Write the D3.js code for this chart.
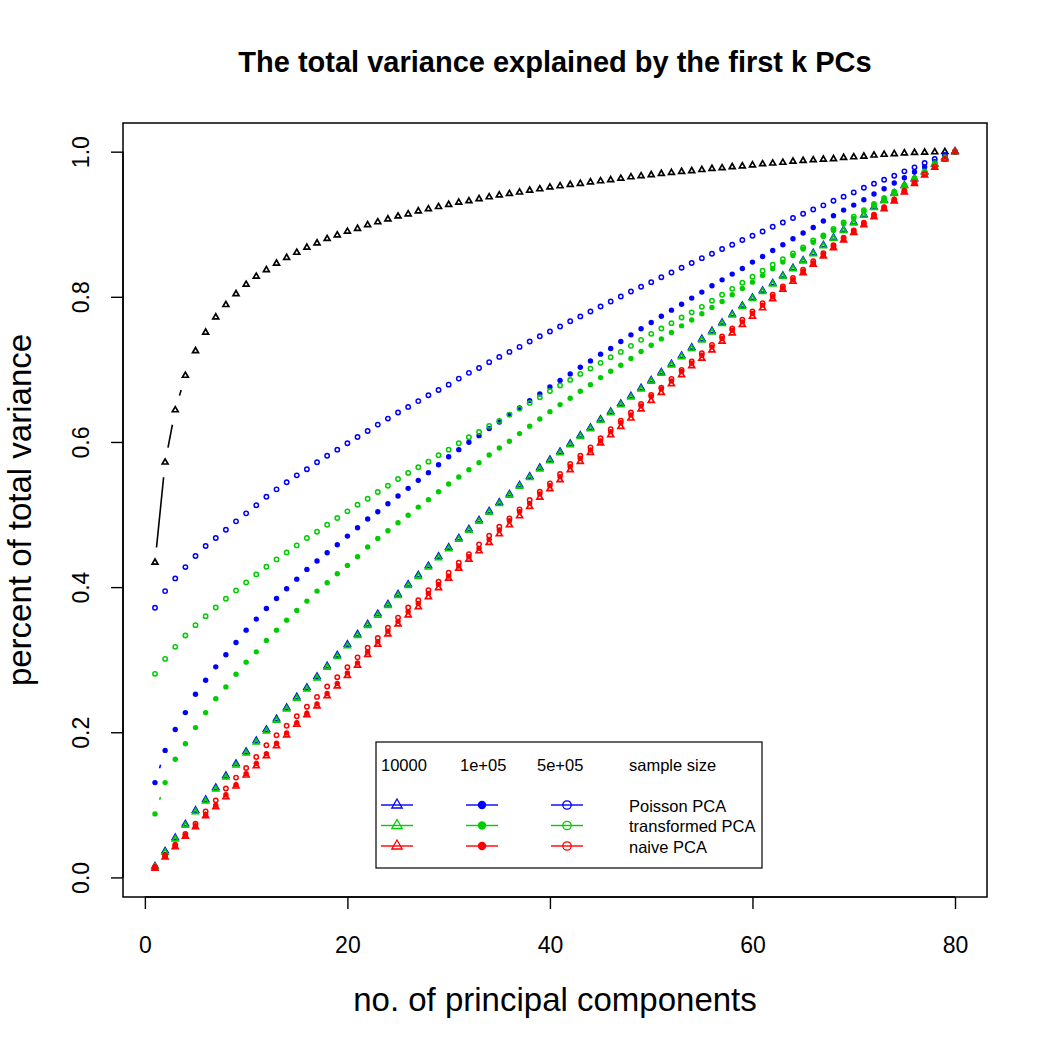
<!DOCTYPE html>
<html>
<head>
<meta charset="utf-8">
<script src="https://cdn.jsdelivr.net/npm/d3@7/dist/d3.min.js"></script>
<style>
  body { margin: 0; background: #fff; }
  text { font-family: "Liberation Sans", Arial, Helvetica, sans-serif; }
</style>
</head>
<body>
<script>
// number of principal components on the x axis
var pcs = d3.range(1, 81);

// black reference curve (triangles)
var reference = [0.434,0.572,0.644,0.6915,0.7255,0.751,0.772,0.789,0.804,0.817,
  0.828,0.837,0.846,0.854,0.861,0.868,0.874,0.880,0.885,0.890,
  0.894,0.899,0.903,0.907,0.911,0.914,0.918,0.921,0.924,0.927,
  0.930,0.932,0.935,0.9375,0.940,0.942,0.944,0.9466,0.9485,0.951,
  0.9526,0.9545,0.956,0.958,0.9595,0.961,0.963,0.965,0.9665,0.968,
  0.9697,0.971,0.9724,0.9735,0.975,0.9766,0.9775,0.979,0.980,0.9815,
  0.983,0.984,0.985,0.9866,0.9876,0.9885,0.9894,0.990,0.9917,0.9926,
  0.9935,0.995,0.996,0.997,0.998,0.9986,0.999,0.9995,0.9998,1.0];

// sample size 10000 (triangles)
var poisson10k = [0.0156,0.0363,0.0547,0.0735,0.0924,0.1071,0.1237,0.1403,0.1568,0.1734,
  0.1885,0.2037,0.2184,0.234,0.2487,0.2616,0.2768,0.2915,0.3062,0.321,
  0.3352,0.349,0.3632,0.3766,0.3903,0.4039,0.4166,0.4294,0.4423,0.4548,
  0.4676,0.48,0.4924,0.5048,0.5168,0.5283,0.5407,0.5526,0.5646,0.5756,
  0.5866,0.5977,0.6092,0.6198,0.6313,0.6418,0.6529,0.6634,0.6745,0.6851,
  0.6961,0.7076,0.719,0.7303,0.742,0.7531,0.7646,0.7761,0.788,0.799,
  0.8087,0.8189,0.8294,0.8398,0.8503,0.8605,0.8713,0.8816,0.8924,0.9027,
  0.9131,0.9239,0.9331,0.943,0.9535,0.9626,0.9724,0.983,0.992,1.0];
var transformed10k = [0.0145,0.0345,0.0528,0.0715,0.0902,0.1050,0.1215,0.1380,0.1545,0.1712,
  0.1862,0.2015,0.2162,0.2318,0.2465,0.2595,0.2745,0.2893,0.3040,0.3188,
  0.3330,0.3468,0.3610,0.3745,0.3882,0.4018,0.4145,0.4273,0.4402,0.4527,
  0.4655,0.4780,0.4904,0.5028,0.5148,0.5263,0.5387,0.5506,0.5626,0.5737,
  0.5847,0.5958,0.6073,0.6180,0.6295,0.6400,0.6511,0.6616,0.6727,0.6834,
  0.6944,0.7059,0.7173,0.7286,0.7403,0.7514,0.7629,0.7745,0.7864,0.7975,
  0.8072,0.8174,0.8280,0.8384,0.8490,0.8592,0.8700,0.8804,0.8912,0.9016,
  0.9120,0.9228,0.9321,0.9421,0.9527,0.9618,0.9717,0.9824,0.9915,1.0];
var naive10k = [0.0125,0.0280,0.0420,0.0565,0.0695,0.0846,0.0970,0.1108,0.1255,0.1407,
  0.1536,0.1674,0.1811,0.1959,0.2106,0.2239,0.2360,0.2500,0.2635,0.2780,
  0.2920,0.3068,0.3210,0.3352,0.3488,0.3614,0.3728,0.3866,0.3990,0.4120,
  0.4258,0.4382,0.4497,0.4611,0.4731,0.4855,0.4979,0.5108,0.5237,0.5352,
  0.5476,0.5614,0.5729,0.5853,0.5982,0.6097,0.6211,0.6326,0.6451,0.6570,
  0.6680,0.6800,0.6924,0.7048,0.7150,0.7265,0.7385,0.7500,0.7615,0.7730,
  0.7845,0.7970,0.8100,0.8210,0.8330,0.8445,0.8560,0.8675,0.8780,0.8885,
  0.8990,0.9100,0.9210,0.9318,0.9443,0.9560,0.9676,0.9784,0.9895,1.0];

// sample size 1e+05 (filled dots)
var poisson100k = [0.1306,0.175,0.2037,0.2271,0.2524,0.2717,0.2901,0.3067,0.3237,0.3407,
  0.3559,0.3706,0.3844,0.3977,0.411,0.4244,0.4359,0.4474,0.4584,0.4703,
  0.4818,0.4938,0.5039,0.5149,0.5255,0.5361,0.5471,0.5577,0.5687,0.5797,
  0.5894,0.5995,0.6087,0.6184,0.6276,0.6377,0.6469,0.657,0.6662,0.6759,
  0.6846,0.6938,0.703,0.7117,0.721,0.7287,0.7384,0.7476,0.7559,0.7646,
  0.7733,0.7816,0.7897,0.7982,0.8065,0.8152,0.8234,0.8313,0.839,0.8478,
  0.8556,0.8639,0.8717,0.880,0.888,0.8956,0.9044,0.9117,0.9195,0.9264,
  0.9338,0.9416,0.949,0.9568,0.9641,0.972,0.9789,0.9862,0.992,1.0];
var transformed100k = [0.0875,0.1306,0.1628,0.1842,0.2064,0.2271,0.2463,0.2625,0.28,0.2966,
  0.3108,0.3264,0.3407,0.3545,0.3678,0.3807,0.3945,0.406,0.4184,0.4299,
  0.4418,0.4552,0.4671,0.4777,0.4887,0.499,0.5102,0.5205,0.5315,0.5421,
  0.5517,0.5618,0.5715,0.5821,0.5917,0.6009,0.6115,0.6216,0.6317,0.6418,
  0.6515,0.6602,0.6699,0.679,0.6887,0.6975,0.7058,0.7149,0.7246,0.7333,
  0.742,0.7508,0.760,0.768,0.7766,0.7853,0.7935,0.8028,0.8115,0.8202,
  0.8294,0.8386,0.8478,0.8568,0.8658,0.8752,0.8831,0.8915,0.9007,0.908,
  0.9177,0.926,0.9338,0.943,0.9522,0.9623,0.9715,0.9834,0.991,1.0];
var naive100k = [0.0133,0.0290,0.0432,0.0579,0.0708,0.0866,0.0995,0.1138,0.1278,0.1430,
  0.1572,0.1706,0.1848,0.1989,0.2131,0.2262,0.2391,0.2534,0.2671,0.2818,
  0.2956,0.3105,0.3248,0.3392,0.3528,0.3660,0.3775,0.3913,0.4037,0.4152,
  0.4290,0.4418,0.4534,0.4658,0.4786,0.4915,0.5039,0.5154,0.5283,0.5398,
  0.5522,0.5660,0.5775,0.5890,0.6014,0.6142,0.6266,0.6372,0.6497,0.6625,
  0.6731,0.6841,0.6970,0.7085,0.7195,0.7310,0.7425,0.7540,0.7655,0.7770,
  0.7885,0.8000,0.8120,0.8234,0.8350,0.8464,0.8580,0.8694,0.8800,0.8900,
  0.9007,0.9117,0.9223,0.9329,0.9453,0.9568,0.9683,0.9789,0.9899,1.0];

// sample size 5e+05 (open circles)
var poisson500k = [0.3715,0.3945,0.412,0.4276,0.4428,0.4566,0.4676,0.479,0.4906,0.5016,
  0.5127,0.5246,0.5347,0.5444,0.554,0.5623,0.572,0.5811,0.5894,0.5982,
  0.6069,0.6152,0.6239,0.6322,0.6405,0.6483,0.6563,0.6644,0.6717,0.679,
  0.6873,0.6952,0.702,0.710,0.7172,0.7241,0.731,0.7384,0.7457,0.7522,
  0.759,0.7664,0.773,0.7798,0.7866,0.7935,0.8004,0.8073,0.8138,0.8202,
  0.827,0.8335,0.840,0.8466,0.8533,0.8593,0.8658,0.8717,0.8782,0.8841,
  0.890,0.8966,0.9025,0.9085,0.9145,0.9204,0.926,0.9324,0.938,0.9439,
  0.9503,0.9559,0.9614,0.9669,0.9729,0.9784,0.9844,0.9899,0.9954,1.0];
var transformed500k = [0.2805,0.3011,0.3177,0.3333,0.3476,0.36,0.372,0.3839,0.3954,0.4065,
  0.4175,0.428,0.4382,0.4478,0.4575,0.4676,0.4763,0.486,0.4952,0.5044,
  0.5135,0.5218,0.531,0.5397,0.549,0.5572,0.5651,0.5729,0.5816,0.5894,
  0.5982,0.6065,0.6138,0.622,0.629,0.6377,0.646,0.6538,0.6616,0.6703,
  0.6777,0.6855,0.6938,0.7011,0.709,0.7168,0.7241,0.7324,0.7407,0.749,
  0.7563,0.7637,0.7715,0.7786,0.7862,0.7945,0.8028,0.811,0.8193,0.8276,
  0.8359,0.8441,0.852,0.8598,0.868,0.8775,0.8846,0.8935,0.9025,0.9105,
  0.9195,0.928,0.936,0.9448,0.9538,0.9635,0.9728,0.9842,0.9915,1.0];
var naive500k = [0.0145,0.0305,0.0450,0.0600,0.0740,0.0910,0.1062,0.1225,0.1375,0.1508,
  0.1660,0.1821,0.1959,0.2090,0.2221,0.2352,0.2487,0.2630,0.2758,0.2897,
  0.3032,0.3165,0.3300,0.3440,0.3580,0.3720,0.3820,0.3959,0.4073,0.4198,
  0.4336,0.4455,0.4589,0.4708,0.4832,0.4947,0.5071,0.5200,0.5315,0.5430,
  0.5559,0.5697,0.5811,0.5926,0.6051,0.6175,0.6294,0.6405,0.6524,0.6648,
  0.6749,0.6869,0.6993,0.7108,0.7223,0.7338,0.7453,0.7563,0.7683,0.7798,
  0.7913,0.8028,0.8142,0.8260,0.8375,0.8490,0.8600,0.8710,0.8815,0.8915,
  0.9020,0.9130,0.9235,0.9340,0.9462,0.9575,0.9690,0.9793,0.9900,1.0];

// tick values and legend labels
var xTicks = [0, 20, 40, 60, 80];
var yTicks = [0, 0.2, 0.4, 0.6, 0.8, 1.0];
var sampleSizes = ["10000", "1e+05", "5e+05"];
var methods = ["Poisson PCA", "transformed PCA", "naive PCA"];

var colors = { Poisson: "#0000ff", transformed: "#00cd00", naive: "#ff0000", ref: "#000000" };

// series in drawing order
var series = [
  { values: reference, color: colors.ref, shape: "tri" },
  { values: poisson10k, color: colors.Poisson, shape: "tri" },
  { values: transformed10k, color: colors.transformed, shape: "tri" },
  { values: naive10k, color: colors.naive, shape: "tri" },
  { values: poisson100k, color: colors.Poisson, shape: "dot" },
  { values: transformed100k, color: colors.transformed, shape: "dot" },
  { values: naive100k, color: colors.naive, shape: "dot" },
  { values: poisson500k, color: colors.Poisson, shape: "circle" },
  { values: transformed500k, color: colors.transformed, shape: "circle" },
  { values: naive500k, color: colors.naive, shape: "circle" }
];

var width = 1050, height = 1050;
// plot region (note: "top" is a reserved window name, so use other names)
var plotLeft = 123, plotRight = 987, plotTop = 123, plotBottom = 897;

var svg = d3.select("body").append("svg")
    .attr("width", width)
    .attr("height", height);

svg.append("rect").attr("width", width).attr("height", height).attr("fill", "#fff");

// R style axis ranges: data range padded by 4%
var xExt = d3.extent(pcs);
var xPad = (xExt[1] - xExt[0]) * 0.04;
var x = d3.scaleLinear().domain([xExt[0] - xPad, xExt[1] + xPad]).range([plotLeft, plotRight]);

var allVals = d3.merge(series.map(function(s) { return s.values; }));
var yExt = d3.extent(allVals);
var yPad = (yExt[1] - yExt[0]) * 0.04;
var y = d3.scaleLinear().domain([yExt[0] - yPad, yExt[1] + yPad]).range([plotBottom, plotTop]);

// triangle path around a centre
function triPath(r) {
  return "M0," + (-r) + "L" + (r * 0.866) + "," + (r * 0.5) + "L" + (-r * 0.866) + "," + (r * 0.5) + "Z";
}

function drawMarker(g, shape, color, big) {
  if (shape === "tri") {
    g.append("path").attr("d", triPath(big ? 6 : 3.4))
      .attr("fill", "none").attr("stroke", color).attr("stroke-width", big ? 1.3 : 1.7);
  } else if (shape === "dot") {
    g.append("circle").attr("r", big ? 4.2 : 2.7).attr("fill", color);
  } else {
    g.append("circle").attr("r", big ? 4.2 : 2.2)
      .attr("fill", "none").attr("stroke", color).attr("stroke-width", big ? 1.3 : 1.5);
  }
}

// type="b": line segments with a gap around each point
var gap = 15;
var plotArea = svg.append("g");

series.forEach(function(s) {
  var pts = s.values.map(function(v, i) { return [x(pcs[i]), y(v)]; });
  d3.pairs(pts).forEach(function(p) {
    var dx = p[1][0] - p[0][0], dy = p[1][1] - p[0][1];
    var len = Math.sqrt(dx * dx + dy * dy);
    if (len > 2 * gap) {
      plotArea.append("line")
        .attr("x1", p[0][0] + gap * dx / len).attr("y1", p[0][1] + gap * dy / len)
        .attr("x2", p[1][0] - gap * dx / len).attr("y2", p[1][1] - gap * dy / len)
        .attr("stroke", s.color).attr("stroke-width", 1.6);
    }
  });
  pts.forEach(function(p) {
    var g = plotArea.append("g").attr("transform", "translate(" + p[0] + "," + p[1] + ")");
    drawMarker(g, s.shape, s.color, false);
  });
});

// box round the plot region
svg.append("rect")
  .attr("x", plotLeft).attr("y", plotTop)
  .attr("width", plotRight - plotLeft).attr("height", plotBottom - plotTop)
  .attr("fill", "none").attr("stroke", "#000").attr("stroke-width", 1.5);

// x axis
var xAxis = svg.append("g")
  .attr("transform", "translate(0," + plotBottom + ")")
  .call(d3.axisBottom(x).tickValues(xTicks).tickSize(12).tickPadding(28).tickSizeOuter(0));
xAxis.select(".domain").remove();
xAxis.append("line").attr("x1", x(xTicks[0])).attr("x2", x(xTicks[xTicks.length - 1]))
  .attr("stroke", "#000").attr("stroke-width", 1.5);
xAxis.selectAll(".tick line").attr("stroke-width", 1.4);
xAxis.selectAll(".tick text").attr("font-size", 23).attr("fill", "#000")
  .attr("font-family", "Liberation Sans, Arial, sans-serif");

// y axis, labels turned like R does
var yAxis = svg.append("g")
  .attr("transform", "translate(" + plotLeft + ",0)")
  .call(d3.axisLeft(y).tickValues(yTicks).tickSize(12).tickFormat(d3.format(".1f")).tickSizeOuter(0));
yAxis.select(".domain").remove();
yAxis.append("line").attr("y1", y(yTicks[0])).attr("y2", y(yTicks[yTicks.length - 1]))
  .attr("stroke", "#000").attr("stroke-width", 1.5);
yAxis.selectAll(".tick line").attr("stroke-width", 1.4);
yAxis.selectAll(".tick text")
  .attr("x", null).attr("dy", null)
  .attr("text-anchor", "middle")
  .attr("transform", "translate(-34,0) rotate(-90)")
  .attr("font-size", 23).attr("fill", "#000")
  .attr("font-family", "Liberation Sans, Arial, sans-serif");

// title and axis titles
svg.append("text")
  .attr("x", (plotLeft + plotRight) / 2).attr("y", 72)
  .attr("text-anchor", "middle").attr("font-size", 29).attr("font-weight", "bold")
  .text("The total variance explained by the first k PCs");

svg.append("text")
  .attr("x", (plotLeft + plotRight) / 2).attr("y", 1011)
  .attr("text-anchor", "middle").attr("font-size", 33)
  .text("no. of principal components");

svg.append("text")
  .attr("transform", "translate(31," + ((plotTop + plotBottom) / 2) + ") rotate(-90)")
  .attr("text-anchor", "middle").attr("font-size", 33)
  .text("percent of total variance");

// legend
var legend = svg.append("g");
legend.append("rect")
  .attr("x", 376).attr("y", 742).attr("width", 386).attr("height", 126)
  .attr("fill", "#fff").attr("stroke", "#000").attr("stroke-width", 1.2);

var colX = [381, 460, 537];
var markX = [397, 482, 567];
var rowY = [805, 825.5, 846];
var rowColors = [colors.Poisson, colors.transformed, colors.naive];
var shapes = ["tri", "dot", "circle"];

sampleSizes.forEach(function(s, i) {
  legend.append("text").attr("x", colX[i]).attr("y", 771).attr("font-size", 16.5).text(s);
});
legend.append("text").attr("x", 629).attr("y", 771).attr("font-size", 16.5).text("sample size");

methods.forEach(function(m, r) {
  shapes.forEach(function(sh, c) {
    legend.append("line")
      .attr("x1", markX[c] - 16).attr("x2", markX[c] + 16)
      .attr("y1", rowY[r]).attr("y2", rowY[r])
      .attr("stroke", rowColors[r]).attr("stroke-width", 1.4);
    var g = legend.append("g").attr("transform", "translate(" + markX[c] + "," + rowY[r] + ")");
    drawMarker(g, sh, rowColors[r], true);
  });
  legend.append("text").attr("x", 629).attr("y", rowY[r] + 6.5).attr("font-size", 16.5).text(m);
});
</script>
</body>
</html>
